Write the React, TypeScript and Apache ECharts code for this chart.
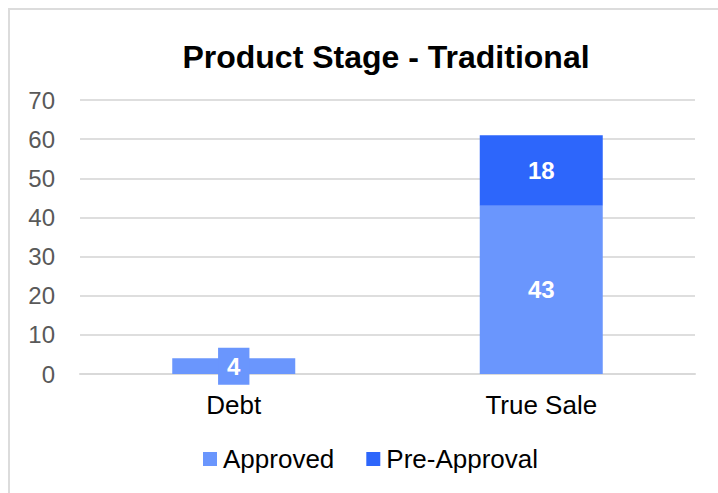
import React, { useEffect, useRef } from "react";
import * as echarts from "echarts";

const titleText = "Product Stage - Traditional";
const categories = ["Debt", "True Sale"];
const seriesNames = ["Approved", "Pre-Approval"];
const approved = [4, 43];
const preApproval = [0, 18];
const yTicks = { min: 0, max: 70, interval: 10 };

const FONT = "'Liberation Sans', Arial, sans-serif";
const C_APPROVED = "#6A96FD";
const C_PRE = "#2D66FB";

export default function App() {
  const ref = useRef<HTMLDivElement>(null);
  useEffect(() => {
    if (!ref.current) return;
    const chart = echarts.init(ref.current, null, { renderer: "svg" });
    const labelBase = {
      show: true,
      position: "inside",
      color: "#ffffff",
      fontWeight: "bold",
      fontSize: 24,
      fontFamily: FONT,
      formatter: (p: any) => (p.value ? String(p.value) : ""),
    };
    chart.setOption({
      animation: false,
      backgroundColor: "#ffffff",
      title: {
        text: titleText,
        left: 371,
        textAlign: "center",
        top: 26,
        textStyle: { fontFamily: FONT, fontWeight: "bold", fontSize: 32, color: "#000000" },
      },
      grid: { left: 70, right: 23, top: 90, bottom: 119, containLabel: false },
      legend: {
        bottom: 16,
        left: 188,
        data: seriesNames,
        icon: "rect",
        itemWidth: 14,
        itemHeight: 14,
        itemGap: 32,
        textStyle: { fontFamily: FONT, fontSize: 26, color: "#000000", padding: [0, 0, 0, 1] },
      },
      xAxis: {
        type: "category",
        data: categories,
        axisLine: { lineStyle: { color: "#d9d9d9", width: 2 } },
        axisTick: { show: false },
        axisLabel: { fontFamily: FONT, fontSize: 26, color: "#000000", margin: 18 },
      },
      yAxis: {
        type: "value",
        min: yTicks.min,
        max: yTicks.max,
        interval: yTicks.interval,
        axisLine: { show: false },
        axisTick: { show: false },
        splitLine: { lineStyle: { color: "#dedede", width: 2 } },
        axisLabel: { fontFamily: FONT, fontSize: 24, color: "#595959", margin: 25 },
      },
      series: [
        {
          name: seriesNames[0],
          type: "bar",
          stack: "total",
          barWidth: "40%",
          itemStyle: { color: C_APPROVED },
          label: labelBase,
          data: approved.map((v, i) =>
            i === 0
              ? { value: v, label: { backgroundColor: C_APPROVED, padding: [7, 9, 6, 9] } }
              : v
          ),
        },
        {
          name: seriesNames[1],
          type: "bar",
          stack: "total",
          barWidth: "40%",
          itemStyle: { color: C_PRE },
          label: labelBase,
          data: preApproval,
        },
      ],
    });
    return () => chart.dispose();
  }, []);
  return (
    <div
      style={{
        position: "fixed",
        left: 8,
        top: 8,
        width: 710,
        height: 485,
        boxSizing: "border-box",
        borderTop: "2px solid #dcdcdc",
        borderLeft: "2px solid #dcdcdc",
        overflow: "hidden",
        background: "#fff",
      }}
    >
      <div ref={ref} style={{ width: 708, height: 483 }} />
    </div>
  );
}
